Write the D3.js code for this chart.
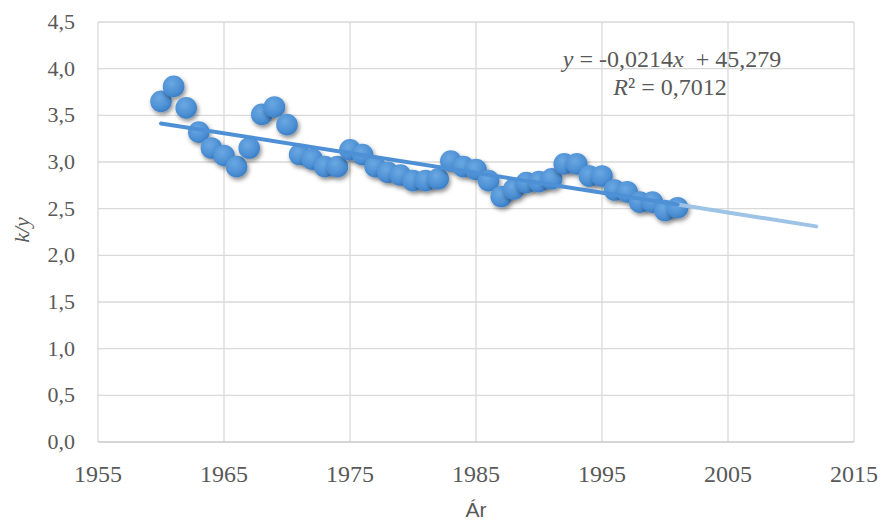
<!DOCTYPE html>
<html><head><meta charset="utf-8">
<script src="https://cdn.jsdelivr.net/npm/d3@7"></script>
<style>body{margin:0;background:#fff}svg{display:block}
.serif{font-family:"Liberation Serif","Times New Roman",Times,"DejaVu Serif",serif}
.narrow{font-family:"Liberation Sans Narrow","Arial Narrow","Liberation Sans",Arial,sans-serif}
</style>
</head><body><svg id="c" width="882" height="520"></svg>
<script>
const years = [1960,1961,1962,1963,1964,1965,1966,1967,1968,1969,1970,1971,1972,1973,1974,1975,1976,1977,1978,1979,1980,1981,1982,1983,1984,1985,1986,1987,1988,1989,1990,1991,1992,1993,1994,1995,1996,1997,1998,1999,2000,2001];
const values = [3.65,3.81,3.58,3.32,3.15,3.07,2.95,3.15,3.51,3.59,3.40,3.08,3.03,2.95,2.95,3.13,3.08,2.95,2.89,2.86,2.80,2.80,2.82,3.01,2.95,2.92,2.80,2.63,2.71,2.78,2.79,2.82,2.98,2.98,2.85,2.85,2.70,2.68,2.57,2.57,2.48,2.51];
const xTicks = [1955,1965,1975,1985,1995,2005,2015];
const yTicks = [0,0.5,1,1.5,2,2.5,3,3.5,4,4.5];
const trendEnd = 2012;
const eqText = "= -0,0214";
const r2Text = "= 0,7012";

const svg = d3.select("#c");
const L=98, R=854, T=22, B=442;
const x = d3.scaleLinear().domain([1955,2015]).range([L,R]);
const y = d3.scaleLinear().domain([0,4.5]).range([B,T]);
const fmt = v => d3.format(".1f")(v).replace(".", ",");
const txt = "#595959";

const defs = svg.append("defs");
const g = defs.append("radialGradient").attr("id","mg").attr("cx","40%").attr("cy","35%").attr("r","65%");
g.append("stop").attr("offset","0%").attr("stop-color","#6aa8e2");
g.append("stop").attr("offset","70%").attr("stop-color","#4d90d5");
g.append("stop").attr("offset","100%").attr("stop-color","#3d7fc4");
const f = defs.append("filter").attr("id","sh").attr("x","-50%").attr("y","-50%").attr("width","200%").attr("height","200%");
f.append("feDropShadow").attr("dx",1.5).attr("dy",2.5).attr("stdDeviation",2.2).attr("flood-color","#000").attr("flood-opacity",0.45);

// gridlines
svg.append("g").selectAll("line").data(yTicks.slice(1)).join("line")
  .attr("x1",L).attr("x2",R).attr("y1",d=>y(d)).attr("y2",d=>y(d))
  .attr("stroke","#d9d9d9").attr("stroke-width",1.3);
svg.append("g").selectAll("line").data(xTicks).join("line")
  .attr("x1",d=>x(d)).attr("x2",d=>x(d)).attr("y1",T).attr("y2",B)
  .attr("stroke","#d9d9d9").attr("stroke-width",1.3);
svg.append("line").attr("x1",L).attr("x2",R).attr("y1",B).attr("y2",B).attr("stroke","#c8c8c8").attr("stroke-width",1.5);

// tick labels
svg.append("g").selectAll("text").data(yTicks).join("text")
  .attr("class","serif")
  .attr("x",75).attr("y",d=>y(d)+7).attr("text-anchor","end")
  .attr("font-size",22).attr("fill",txt)
  .text(fmt);
svg.append("g").selectAll("text").data(xTicks).join("text")
  .attr("class","serif")
  .attr("x",d=>x(d)).attr("y",482).attr("text-anchor","middle")
  .attr("font-size",24).attr("fill",txt)
  .text(d=>d);

// axis titles
svg.append("text").attr("class","serif").attr("transform","translate(29,230) rotate(-90)").attr("text-anchor","middle")
  .attr("font-style","italic").attr("font-size",22).attr("fill",txt).text("k/y");
svg.append("text").attr("class","narrow").attr("x",476).attr("y",517).attr("text-anchor","middle")
  .attr("font-size",21).attr("fill",txt).text("Ár");

// markers
svg.append("g").selectAll("circle").data(years).join("circle")
  .attr("cx",d=>x(d)).attr("cy",(d,i)=>y(values[i])).attr("r",10.8)
  .attr("fill","url(#mg)").attr("filter","url(#sh)");

// linear regression trendline
const n = years.length, mx = d3.mean(years), my = d3.mean(values);
let sxy=0,sxx=0; years.forEach((yr,i)=>{sxy+=(yr-mx)*(values[i]-my); sxx+=(yr-mx)*(yr-mx);});
const slope = sxy/sxx, icpt = my - slope*mx;
const tl = v => icpt + slope*v;
const x0 = years[0], x1 = years[n-1];
svg.append("line").attr("x1",x(x1)).attr("y1",y(tl(x1))).attr("x2",x(trendEnd)).attr("y2",y(tl(trendEnd)))
  .attr("stroke","#9dc3e6").attr("stroke-width",4).attr("stroke-linecap","round");
svg.append("line").attr("x1",x(x0)).attr("y1",y(tl(x0))).attr("x2",x(x1)).attr("y2",y(tl(x1)))
  .attr("stroke","#4d90d5").attr("stroke-width",4).attr("stroke-linecap","round");

// equation
const eq = svg.append("text").attr("class","serif").attr("x",672).attr("y",67).attr("text-anchor","middle")
  .attr("font-size",24).attr("fill",txt).attr("xml:space","preserve");
eq.append("tspan").attr("font-style","italic").text("y");
eq.append("tspan").text(" " + eqText);
eq.append("tspan").attr("font-style","italic").text("x");
eq.append("tspan").text("  + 45,279");
const r2 = svg.append("text").attr("class","serif").attr("x",670).attr("y",95).attr("text-anchor","middle")
  .attr("font-size",24).attr("fill",txt);
r2.append("tspan").attr("font-style","italic").text("R");
r2.append("tspan").text("² " + r2Text);
</script></body></html>
